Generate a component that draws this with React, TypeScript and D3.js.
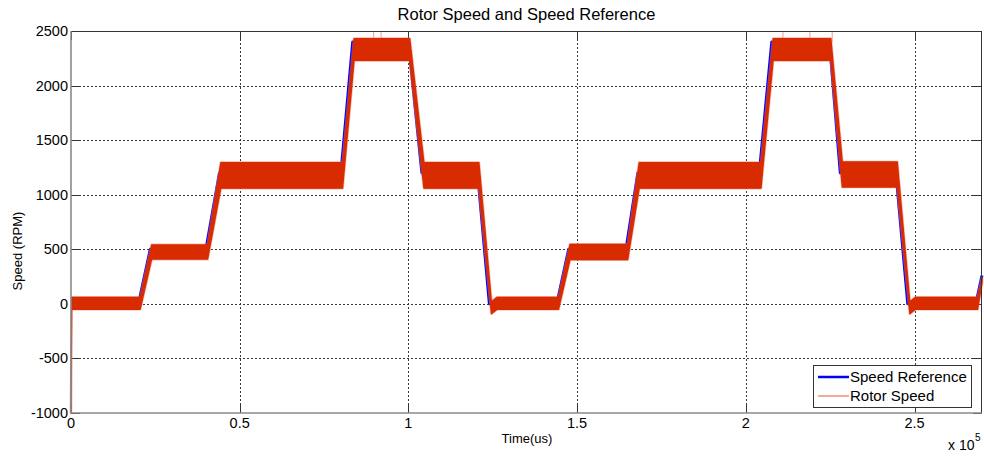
import React from 'react';
import * as d3 from 'd3';

// Canvas and plot frame
const W = 984;
const H = 459;
const PLOT = { left: 71, top: 31, right: 982, bottom: 413 };

// Axis ticks
const yTicks = [-1000, -500, 0, 500, 1000, 1500, 2000, 2500];
const xTicks = [0, 50000, 100000, 150000, 200000, 250000];
const xTickLabels = ['0', '0.5', '1', '1.5', '2', '2.5'];

// Speed reference profile (time in us, speed in RPM)
const refTime = [0, 20000, 23500, 40000, 44000, 80000, 83500, 100000, 104000, 120500, 124000, 144000, 147500, 164500, 168000, 204000, 207700, 224800, 228000, 244500, 248000, 268200, 270000];
const refSpeed = [0, 0, 500, 500, 1200, 1200, 2400, 2400, 1200, 1200, 0, 0, 500, 500, 1200, 1200, 2400, 2400, 1200, 1200, 0, 0, 260];

// Measured rotor speed: ripple envelope (lower / upper bound, RPM)
const rotorTime = [0, 200, 20500, 23900, 40500, 44400, 80500, 83900, 100400, 104600, 120900, 124600, 126300, 144500, 147900, 165000, 168400, 204500, 208100, 225200, 228600, 244900, 248600, 250300, 268700, 270000];
const rotorLow = [-1000, -50, -50, 410, 410, 1060, 1060, 2230, 2230, 1060, 1060, -90, -50, -50, 405, 405, 1060, 1060, 2230, 2230, 1070, 1070, -90, -50, -50, 190];
const rotorHigh = [-1000, 60, 60, 540, 540, 1295, 1295, 2430, 2430, 1295, 1295, 20, 60, 60, 545, 545, 1295, 1295, 2430, 2430, 1300, 1300, 20, 60, 60, 240];

// Isolated ripple peaks on the 2400 RPM plateaus
const spikeTime = [89700, 91900, 211000, 219000, 225600];
const spikeSpeed = [2495, 2490, 2490, 2490, 2495];

const FONT = '"Liberation Sans", Arial, Helvetica, sans-serif';
const RED = '#d92b00';
const RED_LIGHT = '#ee7a62';
const BLUE = '#0000ff';
const GRID = '#3a3a3a';

export default function App() {
  const x = d3.scaleLinear().domain([0, 270000]).range([PLOT.left, PLOT.right]);
  const y = d3.scaleLinear().domain([-1000, 2500]).range([PLOT.bottom, PLOT.top]);

  const refPts = refTime.map((t, i) => [t, refSpeed[i]] as [number, number]);
  const refLine = d3.line<[number, number]>().x(d => x(d[0])).y(d => y(d[1]))(refPts) || '';

  const rotorPts = rotorTime.map((t, i) => ({ t, lo: rotorLow[i], hi: rotorHigh[i] }));
  const rotorArea = d3.area<{ t: number; lo: number; hi: number }>()
    .x(d => x(d.t))
    .y0(d => y(d.lo))
    .y1(d => y(d.hi))(rotorPts) || '';

  const px = (v: number) => Math.round(v) + 0.5;

  return (
    <svg width={W} height={H} style={{ position: 'absolute', left: 0, top: 0, display: 'block', background: '#fff' }} fontFamily={FONT}>
      <rect x={0} y={0} width={W} height={H} fill="#fff" />

      {/* grid */}
      {yTicks.filter(v => v > -1000 && v < 2500).map(v => (
        <line key={'gy' + v} x1={PLOT.left} x2={PLOT.right} y1={px(y(v))} y2={px(y(v))} stroke={GRID} strokeWidth={1} strokeDasharray="2 2" />
      ))}
      {xTicks.filter(v => v > 0).map(v => (
        <line key={'gx' + v} y1={PLOT.top} y2={PLOT.bottom} x1={px(x(v))} x2={px(x(v))} stroke={GRID} strokeWidth={1} strokeDasharray="2 2" />
      ))}

      {/* tick marks, drawn inward on all four sides */}
      {yTicks.map(v => (
        <g key={'ty' + v}>
          <line x1={PLOT.left} x2={PLOT.left + 9} y1={px(y(v))} y2={px(y(v))} stroke="#333" strokeWidth={1} />
          <line x1={PLOT.right - 9} x2={PLOT.right} y1={px(y(v))} y2={px(y(v))} stroke="#333" strokeWidth={1} />
        </g>
      ))}
      {xTicks.map(v => (
        <g key={'tx' + v}>
          <line y1={PLOT.bottom - 9} y2={PLOT.bottom} x1={px(x(v))} x2={px(x(v))} stroke="#333" strokeWidth={1} />
          <line y1={PLOT.top} y2={PLOT.top + 9} x1={px(x(v))} x2={px(x(v))} stroke="#333" strokeWidth={1} />
        </g>
      ))}

      {/* speed reference */}
      <path d={refLine} fill="none" stroke={BLUE} strokeWidth={3} strokeLinejoin="round" />

      {/* rotor speed ripple band */}
      <path d={rotorArea} fill={RED_LIGHT} stroke={RED_LIGHT} strokeWidth={2.6} strokeLinejoin="round" opacity={0.55} />
      {spikeTime.map((t, i) => (
        <line key={'sp' + i} x1={x(t)} x2={x(t)} y1={y(2400)} y2={y(spikeSpeed[i])} stroke={RED_LIGHT} strokeWidth={1} opacity={0.7} />
      ))}
      <path d={rotorArea} fill={RED} stroke={RED} strokeWidth={1.2} strokeLinejoin="round" />

      {/* frame */}
      <line x1={PLOT.left} x2={PLOT.right} y1={PLOT.top + 0.5} y2={PLOT.top + 0.5} stroke="#333" strokeWidth={1} />
      <line x1={PLOT.right - 0.5} x2={PLOT.right - 0.5} y1={PLOT.top} y2={PLOT.bottom} stroke="#333" strokeWidth={1} />
      <line x1={PLOT.left} x2={PLOT.right} y1={PLOT.bottom} y2={PLOT.bottom} stroke="#8a8a8a" strokeWidth={1.6} />
      <line x1={PLOT.left} x2={PLOT.left} y1={PLOT.top} y2={PLOT.bottom} stroke="#8a8a8a" strokeWidth={1.6} />

      {/* tick labels */}
      {yTicks.map(v => (
        <text key={'ly' + v} x={PLOT.left - 3} y={y(v) + 5} textAnchor="end" fontSize={14.5} fill="#000">{v}</text>
      ))}
      {xTicks.map((v, i) => (
        <text key={'lx' + v} x={x(v)} y={428} textAnchor="middle" fontSize={14.5} fill="#000">{xTickLabels[i]}</text>
      ))}

      {/* titles */}
      <text x={(PLOT.left + PLOT.right) / 2} y={20} textAnchor="middle" fontSize={16.5} fill="#000">Rotor Speed and Speed Reference</text>
      <text x={527} y={443} textAnchor="middle" fontSize={13} fill="#000">Time(us)</text>
      <text transform="translate(22,251) rotate(-90)" textAnchor="middle" fontSize={13} fill="#000">Speed (RPM)</text>
      <text x={948} y={450} fontSize={14} fill="#000">x 10</text>
      <text x={975} y={441} fontSize={10} fill="#000">5</text>

      {/* legend */}
      <g>
        <rect x={813.5} y={365.5} width={158} height={42} fill="#fff" stroke="#333" strokeWidth={1} />
        <line x1={818} x2={849} y1={377} y2={377} stroke={BLUE} strokeWidth={2.5} />
        <text x={850} y={382} fontSize={15} fill="#000">Speed Reference</text>
        <line x1={818} x2={849} y1={396} y2={396} stroke="#e8553a" strokeWidth={1} />
        <text x={850} y={401} fontSize={15} fill="#000">Rotor Speed</text>
      </g>
    </svg>
  );
}
